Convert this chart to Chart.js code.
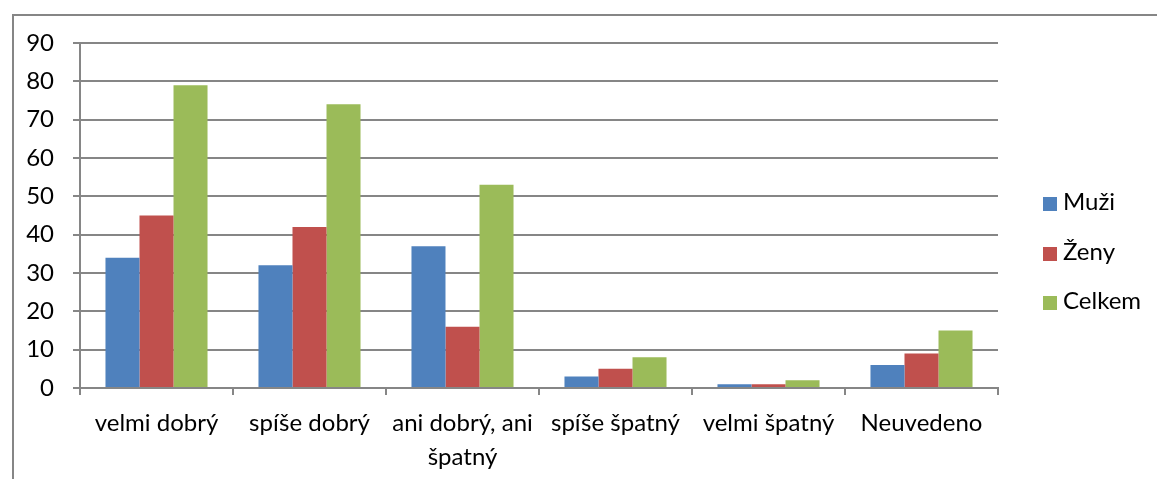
<!DOCTYPE html>
<html>
<head>
<meta charset="utf-8">
<script src="https://cdn.jsdelivr.net/npm/chart.js@4"></script>
<style>
  html, body { margin: 0; padding: 0; background: #fff; }
  #frame { position: absolute; left: 12px; top: 14px; width: 1145px; height: 465px;
           border-top: 2px solid #868686; border-left: 2px solid #868686; }
  #wrap { position: absolute; left: 0; top: 0; width: 1157px; height: 479px; }
  #legend { position: absolute; left: 1043px; top: 186px; font: 24px Lato, "Open Sans", sans-serif; color: #000; }
  #legend .item { height: 49.5px; line-height: 30px; white-space: nowrap; }
  #legend .box { display: inline-block; width: 14px; height: 14px; margin-right: 6px; vertical-align: -1px; }
</style>
</head>
<body>
<div id="frame"></div>
<div id="wrap"><canvas id="chart"></canvas></div>
<div id="legend"></div>
<script>
// categories and series
var categories = ['velmi dobrý', 'spíše dobrý', ['ani dobrý, ani', 'špatný'], 'spíše špatný', 'velmi špatný', 'Neuvedeno'];
var muzi   = [34, 32, 37, 3, 1, 6];
var zeny   = [45, 42, 16, 5, 1, 9];
var celkem = [79, 74, 53, 8, 2, 15];
var seriesNames = ['Muži', 'Ženy', 'Celkem'];
var seriesColors = ['#4F81BD', '#C0504D', '#9BBB59'];

var fontFamily = 'Lato, "Open Sans", sans-serif';
var gridColor = '#868686';

// legend as plain html, to sit exactly where the reference has it
var legendEl = document.getElementById('legend');
seriesNames.forEach(function (name, i) {
    var item = document.createElement('div');
    item.className = 'item';
    var box = document.createElement('span');
    box.className = 'box';
    box.style.background = seriesColors[i];
    item.appendChild(box);
    item.appendChild(document.createTextNode(name));
    legendEl.appendChild(item);
});

var ctx = document.getElementById('chart').getContext('2d');

new Chart(ctx, {
    type: 'bar',
    data: {
        labels: categories,
        datasets: [muzi, zeny, celkem].map(function (values, i) {
            return {
                label: seriesNames[i],
                data: values,
                backgroundColor: seriesColors[i],
                borderWidth: 0,
                barPercentage: 1.0,
                categoryPercentage: 0.667
            };
        })
    },
    options: {
        responsive: true,
        maintainAspectRatio: false,
        animation: false,
        layout: { padding: { top: 43, left: 0, right: 159, bottom: 0 } },
        scales: {
            x: {
                grid: { drawOnChartArea: false, drawTicks: true, tickLength: 7, color: gridColor, lineWidth: 2 },
                border: { color: gridColor, width: 2 },
                ticks: {
                    color: '#000',
                    font: { family: fontFamily, size: 24, lineHeight: 1.42 },
                    padding: 11,
                    maxRotation: 0,
                    autoSkip: false
                },
                afterFit: function (scale) { scale.height = 91; }
            },
            y: {
                min: 0,
                max: 90,
                ticks: {
                    stepSize: 10,
                    color: '#000',
                    font: { family: fontFamily, size: 24 },
                    padding: 19
                },
                grid: { color: gridColor, lineWidth: 2, tickLength: 7 },
                border: { color: gridColor, width: 2 },
                afterFit: function (scale) { scale.width = 80; }
            }
        },
        plugins: {
            legend: { display: false },
            tooltip: { enabled: false }
        }
    }
});
</script>
</body>
</html>
